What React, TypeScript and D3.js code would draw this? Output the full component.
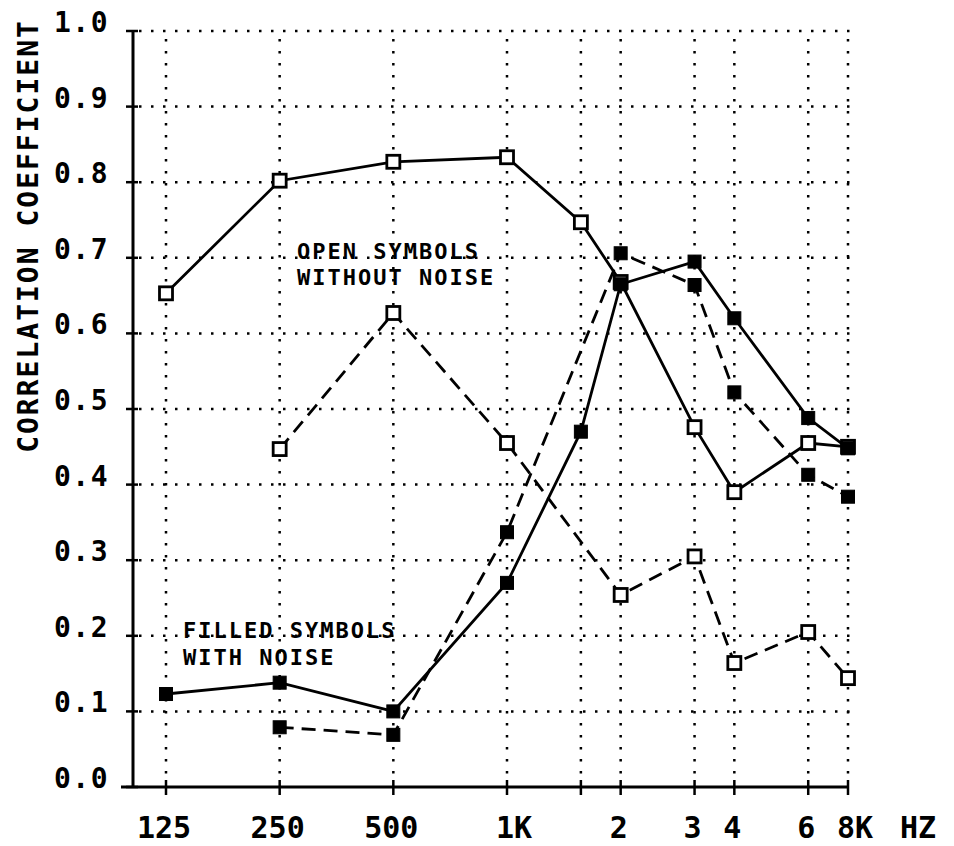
import React from "react";
import * as d3 from "d3";

// Frequencies (Hz) on the x axis
const freqs = [125, 250, 500, 1000, 1500, 2000, 3000, 4000, 6000, 8000];
// Labeled ticks
const tickLabelFreqs = [125, 250, 500, 1000, 2000, 3000, 4000, 6000, 8000];
const tickLabels = ["125", "250", "500", "1K", "2", "3", "4", "6", "8K"];
const yTicks = [0, 0.1, 0.2, 0.3, 0.4, 0.5, 0.6, 0.7, 0.8, 0.9, 1.0];

// Open symbols: without noise
const openSolid = [0.653, 0.802, 0.827, 0.833, 0.747, 0.668, 0.476, 0.39, 0.455, 0.45];
const openDashed = [null, 0.447, 0.627, 0.455, null, 0.254, 0.305, 0.164, 0.205, 0.144];
// Filled symbols: with noise
const filledSolid = [0.123, 0.138, 0.1, 0.27, 0.47, 0.665, 0.695, 0.62, 0.488, 0.448];
const filledDashed = [null, 0.079, 0.069, 0.337, null, 0.706, 0.664, 0.522, 0.413, 0.384];

const W = 954;
const H = 846;
const FONT = "'DejaVu Sans Mono', monospace";

// audiometric half-step frequencies sit ~0.65 octave above the lower octave on this plot
function octave(f: number) {
  const l = Math.log2(f / 125);
  const fl = Math.floor(l + 1e-9);
  return fl + (l - fl > 1e-6 ? 0.65 : 0);
}

const xOct = d3.scaleLinear().domain([0, 6]).range([166, 848]);
const x = (f: number) => xOct(octave(f));
const y = d3.scaleLinear().domain([0, 1]).range([787, 31]);

type Pt = { f: number; v: number };
const toPts = (vals: (number | null)[]): Pt[] =>
  freqs.map((f, i) => ({ f, v: vals[i] as number })).filter((d) => d.v != null);

const line = d3
  .line<Pt>()
  .x((d) => x(d.f))
  .y((d) => y(d.v));

const series = [
  { vals: openSolid, dash: undefined, filled: false },
  { vals: openDashed, dash: "14 8", filled: false },
  { vals: filledSolid, dash: undefined, filled: true },
  { vals: filledDashed, dash: "14 8", filled: true },
];

export default function App() {
  const axisX = 133;
  const xEnd = x(8000);
  const yTop = y(1);
  const yBot = y(0);
  const S = 13;
  return (
    <svg
      width={W}
      height={H}
      style={{ position: "absolute", left: 0, top: 0, background: "#fff" }}
    >
      {/* horizontal dotted grid */}
      {yTicks.map((t) =>
        t === 0 ? null : (
          <line
            key={"hg" + t}
            x1={axisX + 6}
            x2={xEnd + 3}
            y1={y(t)}
            y2={y(t)}
            stroke="#000"
            strokeWidth={2.5}
            strokeDasharray="2.5 9.5"
          />
        )
      )}
      {/* vertical dotted grid */}
      {freqs.map((f) => (
        <line
          key={"vg" + f}
          x1={x(f)}
          x2={x(f)}
          y1={yTop + 8}
          y2={yBot - 4}
          stroke="#000"
          strokeWidth={2.5}
          strokeDasharray="2.5 9.5"
        />
      ))}
      {/* axes */}
      <line x1={axisX} x2={axisX} y1={yTop} y2={yBot} stroke="#000" strokeWidth={3} />
      <line x1={121} x2={xEnd} y1={yBot} y2={yBot} stroke="#000" strokeWidth={3} />
      {yTicks.map((t) => (
        <line
          key={"yt" + t}
          x1={126}
          x2={138}
          y1={y(t)}
          y2={y(t)}
          stroke="#000"
          strokeWidth={2.5}
        />
      ))}
      {freqs.map((f) => (
        <line
          key={"xt" + f}
          x1={x(f)}
          x2={x(f)}
          y1={yBot - 7}
          y2={yBot + 8}
          stroke="#000"
          strokeWidth={2.5}
        />
      ))}
      {/* y tick labels */}
      {yTicks.map((t) => (
        <text
          key={"yl" + t}
          x={109}
          y={y(t) + 1}
          textAnchor="end"
          fontFamily={FONT}
          fontSize={28}
          fontWeight="bold"
          letterSpacing={1.5}
          fill="#000"
        >
          {t.toFixed(1)}
        </text>
      ))}
      {/* x tick labels */}
      {tickLabelFreqs.map((f, i) => (
        <text
          key={"xl" + f}
          x={x(f) + (tickLabels[i] === "1K" || tickLabels[i] === "8K" ? 7 : -2)}
          y={838}
          textAnchor="middle"
          fontFamily={FONT}
          fontSize={30}
          fontWeight="bold"
          fill="#000"
        >
          {tickLabels[i]}
        </text>
      ))}
      <text
        x={918}
        y={838}
        textAnchor="middle"
        fontFamily={FONT}
        fontSize={30}
        fontWeight="bold"
        fill="#000"
      >
        HZ
      </text>
      {/* y axis title */}
      <text
        transform={`translate(38, 236) rotate(-90)`}
        textAnchor="middle"
        fontFamily={FONT}
        fontSize={28}
        fontWeight="bold"
        letterSpacing={2}
        fill="#000"
      >
        CORRELATION COEFFICIENT
      </text>
      {/* annotations */}
      <text x={297} y={259} fontFamily={FONT} fontSize={22} fontWeight="bold" letterSpacing={2} fill="#000">
        OPEN SYMBOLS
      </text>
      <text x={297} y={285} fontFamily={FONT} fontSize={22} fontWeight="bold" letterSpacing={2} fill="#000">
        WITHOUT NOISE
      </text>
      <text x={183} y={638} fontFamily={FONT} fontSize={22} fontWeight="bold" letterSpacing={2} fill="#000">
        FILLED SYMBOLS
      </text>
      <text x={183} y={665} fontFamily={FONT} fontSize={22} fontWeight="bold" letterSpacing={2} fill="#000">
        WITH NOISE
      </text>
      {/* lines */}
      {series.map((s, i) => (
        <path
          key={"l" + i}
          d={line(toPts(s.vals)) || ""}
          fill="none"
          stroke="#000"
          strokeWidth={2.8}
          strokeDasharray={s.dash}
        />
      ))}
      {/* markers */}
      {series.map((s, i) =>
        toPts(s.vals).map((d) => (
          <rect
            key={"m" + i + "-" + d.f}
            x={x(d.f) - S / 2}
            y={y(d.v) - S / 2}
            width={S}
            height={S}
            fill={s.filled ? "#000" : "#fff"}
            stroke="#000"
            strokeWidth={s.filled ? 1 : 2.8}
          />
        ))
      )}
    </svg>
  );
}
